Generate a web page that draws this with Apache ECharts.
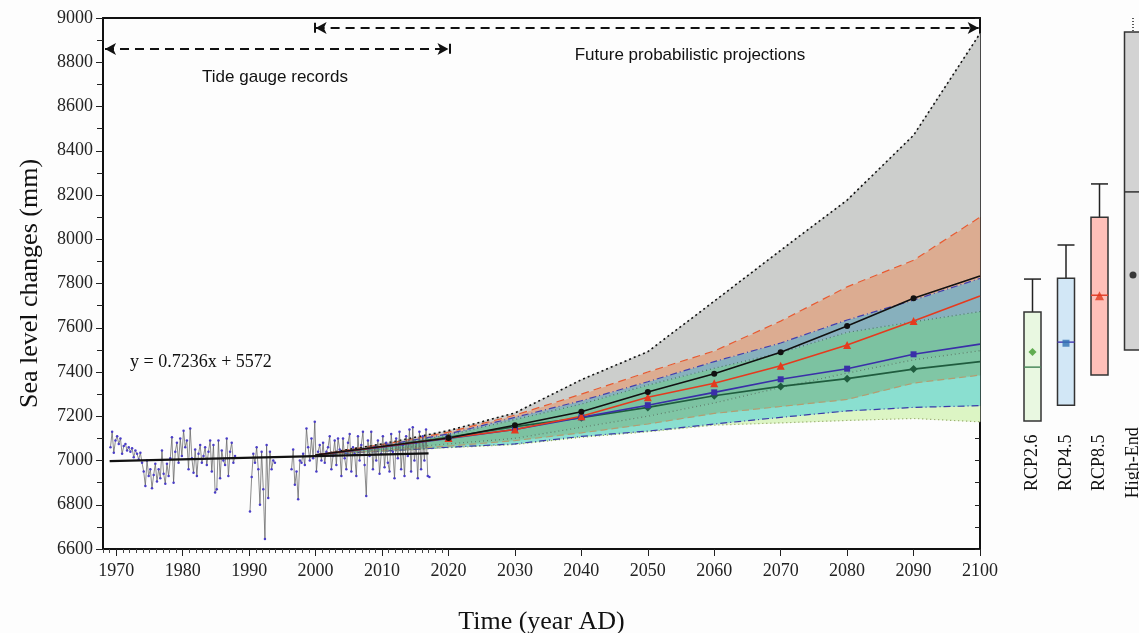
<!DOCTYPE html>
<html>
<head>
<meta charset="utf-8">
<script src="https://cdn.jsdelivr.net/npm/echarts@6/dist/echarts.min.js"></script>
<style>
  html, body { margin: 0; padding: 0; background: #fdfdfd; }
  #chart { width: 1139px; height: 633px; }
</style>
</head>
<body>
<div id="chart"></div>
<script>
// ---- data ----
var xLabels = [1970, 1980, 1990, 2000, 2010, 2020, 2030, 2040, 2050, 2060, 2070, 2080, 2090, 2100];

// tide gauge, quarterly readings, one row per year (null = no record)
var gaugeFirstYear = 1969;
var gaugeValues = [
  7060, 7130, 7035, 7090,   // 1969
  7110, 7075, 7100, 7030,   // 1970
  7065, 7075, 7045, 7060,
  7040, 7055, 7015, 7045,
  7030, 7005, 7035, 6990,
  6950, 6885, 7000, 6930,   // 1974
  6960, 6875, 6935, 6985,
  6905, 6960, 6920, 7045,
  6940, 6895, 6985, 6930,
  7010, 7105, 6900, 7040,
  7080, 6990, 7100, 7020,   // 1979
  7135, 7060, 7090, 6960,
  7145, 7010, 6945, 7050,
  6930, 7030, 7070, 6990,
  7020, 7060, 6980, 7040,
  7090, 6950, 7070, 6855,   // 1984
  6870, 7090, 6920, 7045,
  7000, 6980, 7100, 6930,
  7040, 7080, 6990, 7020,
  null, null, null, null,   // 1988
  null, null, null, null,
  6770, 6925, 7030, 6990,   // 1990
  7060, 6960, 6800, 7040,
  6870, 6645, 7070, 6830,
  7040, 6960, 7000, 6990,
  null, null, null, null,   // 1994
  null, null, null, null,
  null, 6960, 7050, 6890,   // 1996
  6950, 6825, 7000, 6990,
  7030, 6980, 7145, 7060,
  7000, 7100, 7010, 7175,
  6950, 7040, 7070, 7000,   // 2000
  7080, 6990, 7040, 7060,
  7110, 6960, 7020, 7090,
  6980, 7100, 7050, 6930,
  7100, 7010, 6960, 7080,
  7120, 6950, 7060, 7030,   // 2005
  6930, 7110, 7000, 7070,
  7130, 6980, 6840, 7090,
  7020, 7130, 6960, 7060,
  7000, 7090, 6940, 7030,
  7110, 6970, 7080, 6990,   // 2010
  6950, 7120, 7040, 6920,
  7100, 7010, 7130, 6960,
  7070, 6930, 7110, 7020,
  7140, 6950, 7150, 7000,
  7080, 6920, 7130, 6960,   // 2015
  7110, 7000, 7140, 6930,
  6925                      // 2017
];

// linear trend y = 0.7236x + 5572
var trendYears = [1969, 2017];
var trendValues = [6997, 7032];

// projections
var projYears = [2000, 2010, 2020, 2030, 2040, 2050, 2060, 2070, 2080, 2090, 2100];
var markerYears = [2020, 2030, 2040, 2050, 2060, 2070, 2080, 2090];

var highEndUpper = [7025, 7075, 7135, 7215, 7365, 7492, 7720, 7950, 8177, 8470, 8930];
var rcp85Upper   = [7025, 7072, 7128, 7205, 7300, 7400, 7495, 7630, 7785, 7905, 8100];
var rcp45Upper   = [7025, 7068, 7120, 7195, 7270, 7356, 7447, 7531, 7635, 7725, 7823];
var rcp26Upper   = [7025, 7065, 7115, 7185, 7255, 7341, 7417, 7487, 7579, 7627, 7673];
var highEndLower = [7025, 7050, 7075, 7100, 7150, 7200, 7260, 7330, 7395, 7455, 7496];
var rcp85Lower   = [7025, 7045, 7065, 7090, 7125, 7165, 7213, 7244, 7276, 7350, 7386];
var rcp45Lower   = [7025, 7042, 7060, 7075, 7109, 7133, 7165, 7195, 7224, 7240, 7248];
var rcp26Lower   = [7025, 7040, 7058, 7072, 7105, 7130, 7160, 7170, 7181, 7190, 7175];

var highEndMedian = [7025, 7063, 7102, 7159, 7220, 7310, 7392, 7489, 7608, 7733, 7834];
var rcp85Median   = [7025, 7062, 7102, 7140, 7200, 7286, 7349, 7428, 7522, 7630, 7743];
var rcp45Median   = [7025, 7060, 7100, 7140, 7195, 7250, 7308, 7367, 7415, 7480, 7526];
var rcp26Median   = [7025, 7062, 7105, 7153, 7193, 7240, 7293, 7335, 7370, 7413, 7447];

// 2100 box plots
var boxCats    = ['RCP2.6', 'RCP4.5', 'RCP8.5', 'High-End'];
var boxQ1      = [7178, 7250, 7386, 7499];
var boxQ3      = [7671, 7824, 8100, 8937];
var boxMedian  = [7422, 7535, 7747, 8214];
var boxWhisker = [7820, 7974, 8250, 9000];
var boxMean    = [7490, 7530, 7745, 7838];

// ---- build ----
var serif = '"Liberation Serif", "DejaVu Serif", serif';
var sans = '"Liberation Sans", Arial, sans-serif';
var bg = '#fdfdfd';

var minorYears = [];
for (var yr = 1968; yr < 2020; yr++) {
  if (yr % 10 !== 0) minorYears.push(yr);
}

var gaugeData = gaugeValues.map(function (v, i) {
  var year = gaugeFirstYear + Math.floor(i / 4) + ((i % 4) + 0.5) / 4;
  return [year, v];
});

function pairs(ys, vs) {
  return ys.map(function (y, i) { return [y, vs[i]]; });
}

// boundaries from the bottom up; the fan is painted as the strips between them
var bounds = [rcp26Lower, rcp45Lower, rcp85Lower, highEndLower, rcp26Upper, rcp45Upper, rcp85Upper, highEndUpper];
var stripColors = ['#dcf5c4', '#8adfd0', '#80c6a5', '#7cc2a1', '#87b0bd', '#dcac91', '#cccecc'];

function edge(vals, color, lineType, width) {
  return {
    type: 'line', data: pairs(projYears, vals), symbol: 'none', silent: true, z: 2,
    lineStyle: { color: color, type: lineType, width: width }
  };
}

function median(name, vals, color, symbol, size) {
  return {
    name: name, type: 'line', data: pairs(projYears, vals), z: 5,
    symbol: symbol,
    symbolSize: function (v) { return markerYears.indexOf(v[0]) >= 0 ? size : 0; },
    showAllSymbol: true,
    lineStyle: { color: color, width: 1.6 },
    itemStyle: { color: color }
  };
}

var boxColors  = ['#e9f8e1', '#d2e7f6', '#ffc0b9', '#d3d3d3'];
var medColors  = ['#4b8a5c', '#4a42b4', '#e2442e', '#333333'];
var meanColors = ['#3e9a2c', '#2f72b4', '#e03a1e', '#111111'];
var meanSymbols = ['diamond', 'rect', 'triangle', 'circle'];
var meanSizes = [8, 7, 9, 7];

var dom = document.getElementById('chart');
var myChart = echarts.init(dom);

var option = {
  animation: false,
  backgroundColor: bg,
  grid: [
    { left: 103, top: 18, width: 877, height: 531, outerBoundsMode: 'none' },
    { left: 1015.75, top: 18, width: 134, height: 531, outerBoundsMode: 'none' }
  ],
  xAxis: [
    {
      type: 'value', min: 1968, max: 2100, gridIndex: 0,
      name: 'Time (year AD)', nameLocation: 'middle', nameGap: 60,
      nameTextStyle: { fontFamily: serif, fontSize: 26, color: '#111' },
      axisLine: { lineStyle: { color: '#111', width: 2 } },
      axisTick: { customValues: xLabels, length: 7, lineStyle: { color: '#222' } },
      axisLabel: {
        customValues: xLabels, margin: 13, fontFamily: serif, fontSize: 18, color: '#222',
        formatter: function (v) { return String(v); }
      },
      splitLine: { show: false }
    },
    {
      type: 'value', min: 1968, max: 2100, gridIndex: 0, position: 'top',
      axisLine: { lineStyle: { color: '#111', width: 2 } },
      axisTick: { show: false }, axisLabel: { show: false }, splitLine: { show: false }
    },
    {
      type: 'value', min: 1968, max: 2100, gridIndex: 0, position: 'bottom',
      axisLine: { show: false },
      axisTick: { customValues: minorYears, length: 4, lineStyle: { color: '#444' } },
      axisLabel: { show: false }, splitLine: { show: false }
    },
    {
      type: 'category', data: boxCats, gridIndex: 1, show: false
    }
  ],
  yAxis: [
    {
      type: 'value', min: 6600, max: 9000, interval: 200, gridIndex: 0,
      name: 'Sea level changes (mm)', nameLocation: 'middle', nameGap: 60, nameRotate: 90,
      nameTextStyle: { fontFamily: serif, fontSize: 26, color: '#111' },
      axisLine: { show: true, lineStyle: { color: '#111', width: 2 } },
      axisTick: { show: true, length: 7, lineStyle: { color: '#222' } },
      minorTick: { show: true, splitNumber: 2, length: 6, lineStyle: { color: '#222' } },
      axisLabel: {
        margin: 10, fontFamily: serif, fontSize: 18, color: '#222',
        formatter: function (v) { return String(v); }
      },
      splitLine: { show: false }
    },
    {
      type: 'value', min: 6600, max: 9000, interval: 100, gridIndex: 0, position: 'right',
      axisLine: { show: true, lineStyle: { color: '#111', width: 2 } },
      axisTick: { show: true, inside: true, length: 5, lineStyle: { color: '#222' } },
      axisLabel: { show: false }, splitLine: { show: false }
    },
    {
      type: 'value', min: 6600, max: 9000, gridIndex: 1, show: false, splitLine: { show: false }
    }
  ],
  graphic: [
    {
      type: 'text', left: 130, top: 353, silent: true,
      style: { text: 'y = 0.7236x + 5572', fontFamily: serif, fontSize: 18, fill: '#111' }
    },
    {
      type: 'text', x: 275, y: 77, silent: true,
      style: { text: 'Tide gauge records', fontFamily: sans, fontSize: 17, fill: '#111',
               textAlign: 'center', textVerticalAlign: 'middle' }
    },
    {
      type: 'text', x: 690, y: 55, silent: true,
      style: { text: 'Future probabilistic projections', fontFamily: sans, fontSize: 17, fill: '#111',
               textAlign: 'center', textVerticalAlign: 'middle' }
    }
  ],
  series: [
    {
      name: 'Fan', type: 'custom', z: 1, silent: true,
      data: stripColors.map(function (c, i) { return [i]; }),
      encode: { x: -1, y: -1 },
      renderItem: function (params, api) {
        var k = api.value(0);
        var lo = bounds[k], hi = bounds[k + 1];
        var pts = [];
        for (var j = 0; j < projYears.length; j++) pts.push(api.coord([projYears[j], hi[j]]));
        for (var j2 = projYears.length - 1; j2 >= 0; j2--) pts.push(api.coord([projYears[j2], lo[j2]]));
        return {
          type: 'polygon', shape: { points: pts },
          style: { fill: stripColors[k], stroke: stripColors[k], lineWidth: 0.6 }
        };
      }
    },
    // band edges
    edge(rcp26Lower, '#8c9c5c', [1, 3], 1.2),
    edge(rcp45Lower, '#3b3aa8', [7, 3, 1, 3], 1.2),
    edge(rcp85Lower, '#b39d72', [7, 4], 1.2),
    edge(highEndLower, '#5d7f6c', [1, 3], 1.2),
    edge(rcp26Upper, '#4a7a62', [1, 3], 1.2),
    edge(rcp45Upper, '#4040b0', [7, 3, 1, 3], 1.2),
    edge(rcp85Upper, '#e85a30', [8, 5], 1.2),
    edge(highEndUpper, '#111111', [2, 3], 1.6),
    {
      name: 'Tide gauge', type: 'line', data: gaugeData, z: 3,
      connectNulls: false, showAllSymbol: true,
      symbol: 'circle', symbolSize: 2.5,
      lineStyle: { color: '#5a5a5a', width: 0.7 },
      itemStyle: { color: '#4a3dc8' }
    },
    median('RCP2.6', rcp26Median, '#1f5c3e', 'diamond', 8),
    median('RCP4.5', rcp45Median, '#3a2fa8', 'rect', 6),
    median('RCP8.5', rcp85Median, '#e53a1e', 'triangle', 8),
    median('High-End', highEndMedian, '#111111', 'circle', 6),
    {
      name: 'Trend', type: 'line', data: pairs(trendYears, trendValues), z: 6,
      symbol: 'none', lineStyle: { color: '#111', width: 2.2 },
      markLine: {
        silent: true, symbol: ['arrow', 'arrow'], symbolSize: [9, 11],
        label: { show: false },
        lineStyle: { color: '#111', type: [9, 6], width: 2 },
        data: [
          [{ coord: [1968.3, 8860] }, { coord: [2020, 8860] }],
          [{ coord: [2000, 8955] }, { coord: [2099.8, 8955] }],
          [{ coord: [2020.2, 8838], symbol: 'none', lineStyle: { type: 'solid' } },
           { coord: [2020.2, 8884], symbol: 'none' }],
          [{ coord: [1999.8, 8933], symbol: 'none', lineStyle: { type: 'solid' } },
           { coord: [1999.8, 8979], symbol: 'none' }]
        ]
      }
    },
    {
      name: 'Boxes', type: 'custom', xAxisIndex: 3, yAxisIndex: 2, z: 4,
      data: boxCats.map(function (c, i) {
        return [i, boxQ1[i], boxQ3[i], boxMedian[i], boxWhisker[i]];
      }),
      renderItem: function (params, api) {
        var i = api.value(0);
        var q1 = api.coord([i, api.value(1)]);
        var q3 = api.coord([i, api.value(2)]);
        var md = api.coord([i, api.value(3)]);
        var tp = api.coord([i, api.value(4)]);
        var lb = api.coord([i, 6990]);
        var w = 17, x = q1[0];
        var high = i === 3;
        return {
          type: 'group',
          children: [
            { type: 'line', shape: { x1: x, y1: tp[1], x2: x, y2: q3[1] },
              style: { stroke: '#222', lineWidth: 1.5, lineDash: high ? [1, 2] : null } },
            { type: 'line', shape: { x1: x - w / 2, y1: tp[1], x2: x + w / 2, y2: tp[1] },
              invisible: high, style: { stroke: '#222', lineWidth: 1.5 } },
            { type: 'rect', shape: { x: x - w / 2, y: q3[1], width: w, height: q1[1] - q3[1] },
              style: { fill: boxColors[i], stroke: '#333', lineWidth: 1.5 } },
            { type: 'line', shape: { x1: x - w / 2, y1: md[1], x2: x + w / 2, y2: md[1] },
              style: { stroke: medColors[i], lineWidth: 1.5 } },
            { type: 'text', x: x, y: lb[1], rotation: Math.PI / 2,
              style: { text: boxCats[i], fontFamily: serif, fontSize: 18, fill: '#111',
                       textAlign: 'center', textVerticalAlign: 'middle' } }
          ]
        };
      }
    },
    {
      name: 'Mean', type: 'scatter', xAxisIndex: 3, yAxisIndex: 2, z: 6,
      data: boxCats.map(function (c, i) {
        return {
          value: [i, boxMean[i]], symbol: meanSymbols[i], symbolSize: meanSizes[i],
          itemStyle: { color: meanColors[i] }
        };
      })
    }
  ]
};

if (option && typeof option === 'object') {
  myChart.setOption(option, false);
}
</script>
</body>
</html>
